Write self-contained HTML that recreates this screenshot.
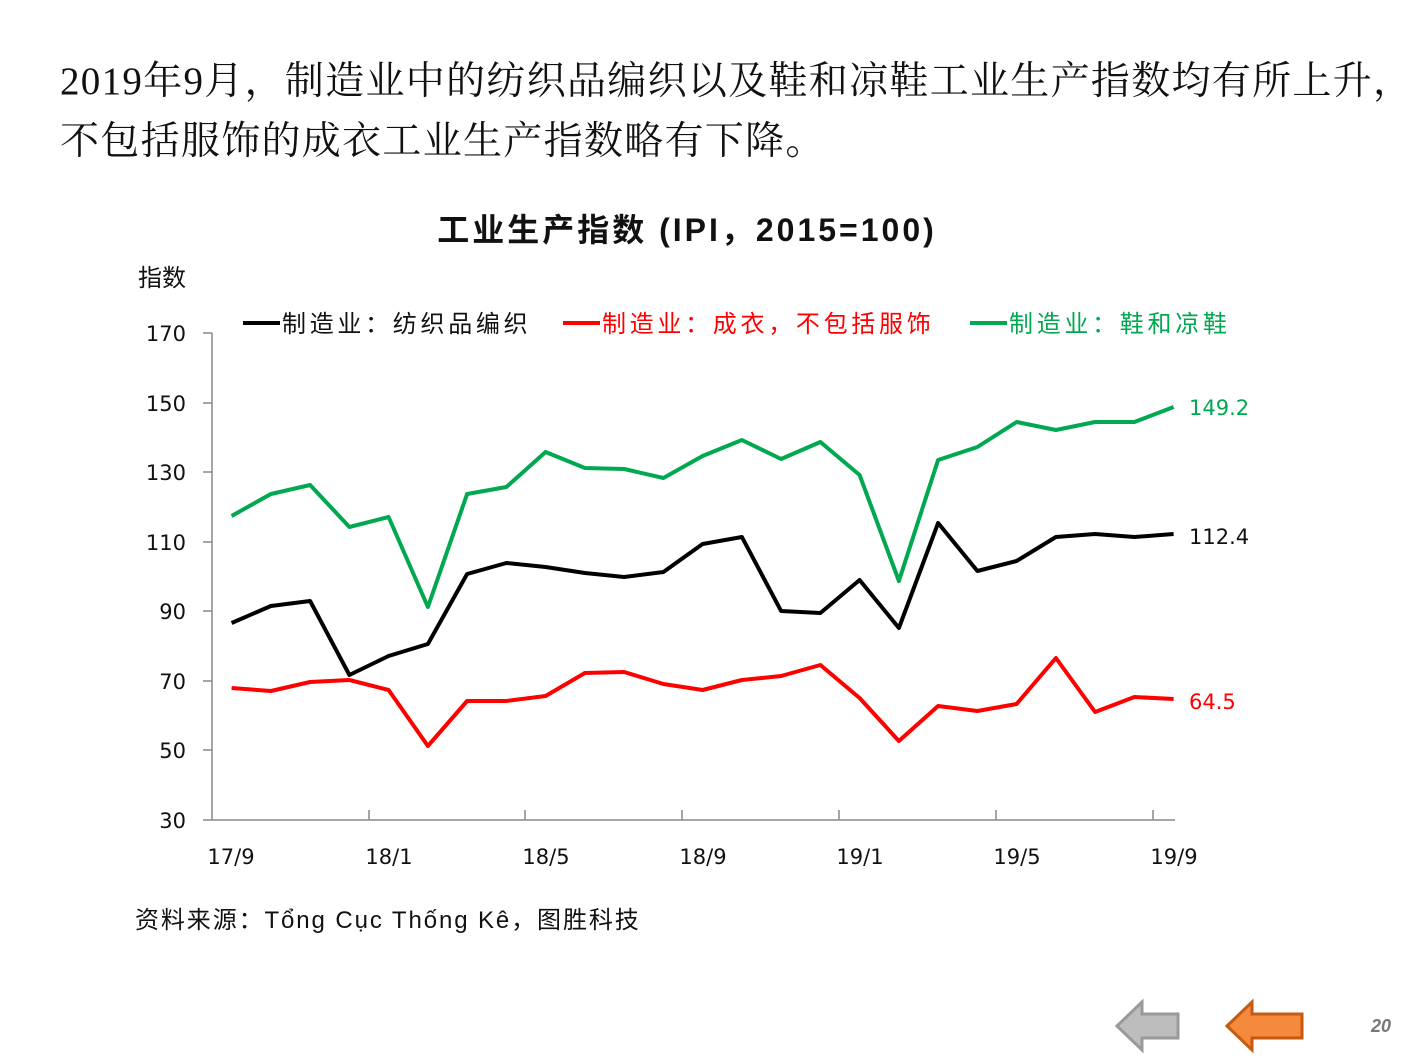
<!DOCTYPE html>
<html><head><meta charset="utf-8"><style>
body{margin:0;background:#fff;width:1411px;height:1058px;overflow:hidden;position:relative}
.t{position:absolute;left:60px;font-family:"Liberation Serif","Noto Serif CJK SC",serif;font-size:39px;color:#111;white-space:nowrap;line-height:1;letter-spacing:1.3px}
</style></head><body>
<div class="t" style="top:62px">2019年9月，制造业中的纺织品编织以及鞋和凉鞋工业生产指数均有所上升，</div>
<div class="t" style="top:122px">不包括服饰的成衣工业生产指数略有下降。</div>
<svg width="1411" height="1058" style="position:absolute;left:0;top:0" font-family="Liberation Sans, Noto Sans CJK SC, sans-serif">
<text x="687" y="241" text-anchor="middle" font-size="32" font-weight="bold" fill="#111" letter-spacing="3">工业生产指数 (IPI，2015=100)</text>
<text x="138" y="286" font-size="24" fill="#111">指数</text>
<g font-size="21" fill="#111" text-anchor="end" font-family="DejaVu Sans, sans-serif">
<text x="186" y="341">170</text><text x="186" y="411">150</text><text x="186" y="480">130</text><text x="186" y="550">110</text><text x="186" y="619">90</text><text x="186" y="689">70</text><text x="186" y="758">50</text><text x="186" y="828">30</text>
</g>
<g stroke="#888" stroke-width="1.5">
<line x1="212" y1="333" x2="212" y2="820"/><line x1="212" y1="820" x2="1175" y2="820"/>
<line x1="203" y1="333" x2="212" y2="333"/><line x1="203" y1="403" x2="212" y2="403"/><line x1="203" y1="472" x2="212" y2="472"/><line x1="203" y1="542" x2="212" y2="542"/><line x1="203" y1="611" x2="212" y2="611"/><line x1="203" y1="681" x2="212" y2="681"/><line x1="203" y1="750" x2="212" y2="750"/><line x1="203" y1="820" x2="212" y2="820"/>
<line x1="369" y1="810" x2="369" y2="820"/><line x1="525" y1="810" x2="525" y2="820"/><line x1="682" y1="810" x2="682" y2="820"/><line x1="839" y1="810" x2="839" y2="820"/><line x1="996" y1="810" x2="996" y2="820"/><line x1="1153" y1="810" x2="1153" y2="820"/>
</g>
<g font-size="21" fill="#111" text-anchor="middle" font-family="DejaVu Sans, sans-serif">
<text x="231" y="864">17/9</text><text x="389" y="864">18/1</text><text x="546" y="864">18/5</text><text x="703" y="864">18/9</text><text x="860" y="864">19/1</text><text x="1017" y="864">19/5</text><text x="1174" y="864">19/9</text>
</g>
<g font-size="24" letter-spacing="3.7">
<line x1="243" y1="323" x2="280" y2="323" stroke="#000" stroke-width="4"/><text x="282" y="332" fill="#111">制造业：纺织品编织</text>
<line x1="563" y1="323" x2="600" y2="323" stroke="#f00" stroke-width="4"/><text x="602" y="332" fill="#f00">制造业：成衣，不包括服饰</text>
<line x1="970" y1="323" x2="1007" y2="323" stroke="#00a84f" stroke-width="4"/><text x="1009" y="332" fill="#00a84f">制造业：鞋和凉鞋</text>
</g>
<polyline fill="none" stroke="#00a84f" stroke-width="4" stroke-linejoin="round" points="231.6,516 270.9,494 310.1,485 349.4,527 388.6,517 427.9,607 467.1,494 506.4,487 545.6,452 584.9,468 624.1,469 663.4,478 702.6,456 741.9,440 781.1,459 820.4,442 859.6,475 898.9,581 938.1,460 977.4,447 1016.6,422 1055.9,430 1095.1,422 1134.4,422 1173.6,407"/>
<polyline fill="none" stroke="#000" stroke-width="4" stroke-linejoin="round" points="231.6,623 270.9,606 310.1,601 349.4,675 388.6,656 427.9,644 467.1,574 506.4,563 545.6,567 584.9,573 624.1,577 663.4,572 702.6,544 741.9,537 781.1,611 820.4,613 859.6,580 898.9,628 938.1,523 977.4,571 1016.6,561 1055.9,537 1095.1,534 1134.4,537 1173.6,534"/>
<polyline fill="none" stroke="#f00" stroke-width="4" stroke-linejoin="round" points="231.6,688 270.9,691 310.1,682 349.4,680 388.6,690 427.9,746 467.1,701 506.4,701 545.6,696 584.9,673 624.1,672 663.4,684 702.6,690 741.9,680 781.1,676 820.4,665 859.6,698 898.9,741 938.1,706 977.4,711 1016.6,704 1055.9,658 1095.1,712 1134.4,697 1173.6,699"/>
<g font-size="21" font-family="DejaVu Sans, sans-serif">
<text x="1189" y="415" fill="#00a84f">149.2</text>
<text x="1189" y="544" fill="#111">112.4</text>
<text x="1189" y="709" fill="#f00">64.5</text>
</g>
<text x="135" y="928" font-size="24" fill="#111" letter-spacing="1.9">资料来源：Tổng Cục Thống Kê，图胜科技</text>
<polygon points="1117,1026 1142,1002 1142,1014 1178,1014 1178,1038 1142,1038 1142,1050" fill="#bdbdbd" stroke="#999" stroke-width="3"/>
<polygon points="1227,1026 1252,1002 1252,1014 1302,1014 1302,1038 1252,1038 1252,1050" fill="#f58a3c" stroke="#c55a11" stroke-width="3"/>
<text x="1381" y="1032" font-size="18" font-weight="bold" font-style="italic" fill="#777" text-anchor="middle">20</text>
</svg>
</body></html>
